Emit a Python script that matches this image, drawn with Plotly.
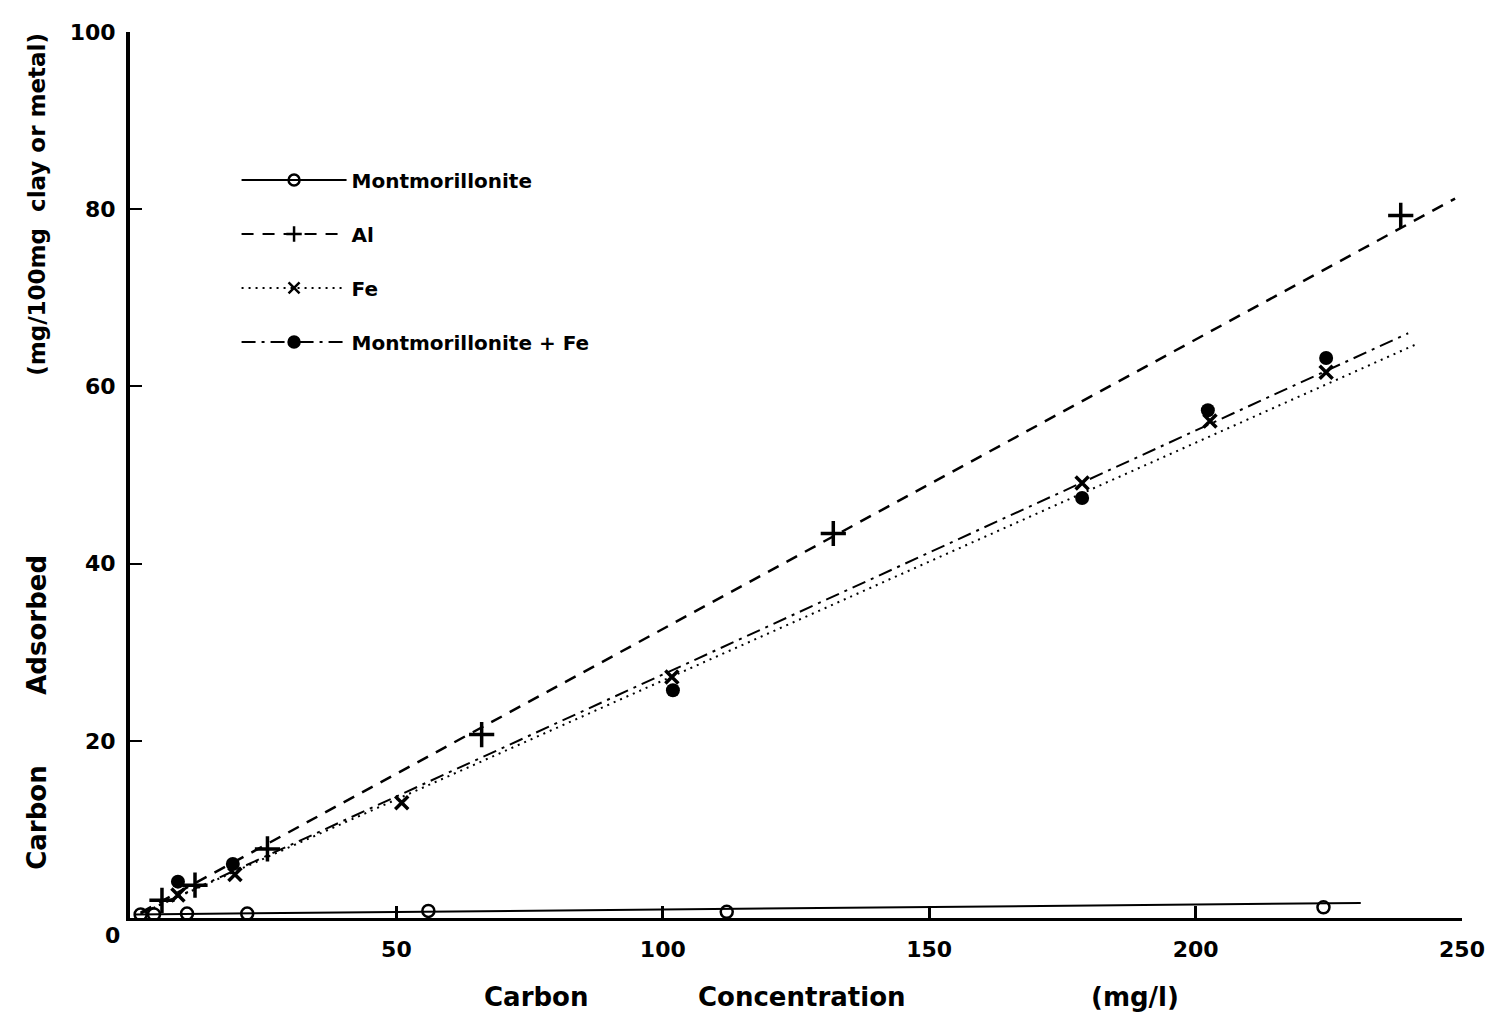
import plotly.graph_objects as go

# ---- data ----
mont_x = [2, 4.5, 10.7, 22, 56, 112, 224]
mont_y = [0.4, 0.4, 0.5, 0.5, 0.8, 0.7, 1.2]
mont_fit_x = [1, 231]
mont_fit_y = [0.4, 1.7]

al_x = [6, 12.2, 25.8, 66, 132, 238.5]
al_y = [2.0, 3.7, 7.8, 20.7, 43.4, 79.3]
al_fit_x = [2, 248.7]
al_fit_y = [0.6, 81.2]

fe_x = [9, 19.7, 51, 101.7, 178.7, 202.7, 224.5]
fe_y = [2.6, 4.9, 13.0, 27.2, 49.1, 56.1, 61.6]
fe_fit_x = [2, 241.2]
fe_fit_y = [0.5, 64.7]

mfe_x = [9, 19.3, 101.9, 178.7, 202.3, 224.5]
mfe_y = [4.1, 6.1, 25.7, 47.4, 57.3, 63.2]
mfe_fit_x = [2, 239.9]
mfe_fit_y = [0.5, 66.0]

x_ticks = [50, 100, 150, 200, 250]
y_ticks = [20, 40, 60, 80, 100]
series_names = ["Montmorillonite", "Al", "Fe", "Montmorillonite + Fe"]

FONT = "DejaVu Sans"
BLACK = "black"

fig = go.Figure()

styles = [
    dict(dash="solid", width=2, symbol="circle-open", size=12, mw=2.5),
    dict(dash="12px,9px", width=2.5, symbol="cross-thin-open", size=18, mw=3.5),
    dict(dash="2px,5px", width=2, symbol="x-thin-open", size=13, mw=3.5),
    dict(dash="14px,6px,3px,6px", width=2, symbol="circle", size=14, mw=0),
]
datasets = [
    (mont_x, mont_y, mont_fit_x, mont_fit_y),
    (al_x, al_y, al_fit_x, al_fit_y),
    (fe_x, fe_y, fe_fit_x, fe_fit_y),
    (mfe_x, mfe_y, mfe_fit_x, mfe_fit_y),
]

for name, st, (px, py, fx, fy) in zip(series_names, styles, datasets):
    fig.add_trace(go.Scatter(
        x=fx, y=fy, mode="lines", showlegend=False,
        line=dict(color=BLACK, width=st["width"], dash=st["dash"]),
        hoverinfo="skip"))
    fig.add_trace(go.Scatter(
        x=px, y=py, mode="markers", showlegend=False, name=name,
        marker=dict(symbol=st["symbol"], size=st["size"], color=BLACK,
                    line=dict(color=BLACK, width=st["mw"]))))
    # legend entry
    fig.add_trace(go.Scatter(
        x=[None], y=[None], mode="lines+markers", name=name,
        legendgroup=name,
        line=dict(color=BLACK, width=2, dash=st["dash"]),
        marker=dict(symbol=st["symbol"], size=min(st["size"], 11), color=BLACK,
                    line=dict(color=BLACK, width=2.5))))

fig.update_layout(
    width=1501, height=1020,
    paper_bgcolor="white", plot_bgcolor="white",
    margin=dict(l=122, r=47, t=24, b=110),
    font=dict(family=FONT, color=BLACK),
    showlegend=True,
    legend=dict(
        x=0.08, y=0.855, xanchor="left", yanchor="top",
        bgcolor="rgba(0,0,0,0)",
        font=dict(family=FONT, size=20, color=BLACK, weight="bold"),
        tracegroupgap=25, itemwidth=105,
    ),
    xaxis=dict(
        range=[0, 250], tickvals=x_ticks, ticktext=[str(v) for v in x_ticks],
        showgrid=False, zeroline=False, showline=True, linecolor=BLACK, linewidth=3,
        ticks="inside", ticklen=12, tickwidth=3, tickcolor=BLACK,
        tickfont=dict(family=FONT, size=22, color=BLACK, weight="bold"),
        ticklabelstandoff=10,
    ),
    yaxis=dict(
        range=[0, 100], tickvals=y_ticks, ticktext=[str(v) for v in y_ticks],
        showgrid=False, zeroline=False, showline=True, linecolor=BLACK, linewidth=4,
        ticks="inside", ticklen=12, tickwidth=2, tickcolor=BLACK,
        tickfont=dict(family=FONT, size=22, color=BLACK, weight="bold"),
        ticklabelstandoff=6,
    ),
)

# origin label
fig.add_annotation(x=-0.013, y=-0.003, xref="paper", yref="paper", text="0",
                   showarrow=False, xanchor="center", yanchor="top",
                   font=dict(family=FONT, size=22, color=BLACK, weight="bold"))
# x title words
for txt, cx in [("Carbon", 536), ("Concentration", 802), ("(mg/l)", 1135)]:
    fig.add_annotation(x=(cx - 130) / 1332, y=-0.07, xref="paper", yref="paper",
                       text=txt, showarrow=False, xanchor="center", yanchor="top",
                       font=dict(family=FONT, size=26, color=BLACK, weight="bold"))
# y title words
for txt, cy, fs in [("Carbon", 818, 26), ("Adsorbed", 625, 26),
                    ("(mg/100mg  clay or metal)", 204, 23)]:
    fig.add_annotation(x=-0.07, y=(918 - cy) / 886, xref="paper", yref="paper",
                       text=txt, showarrow=False, textangle=-90,
                       xanchor="center", yanchor="middle",
                       font=dict(family=FONT, size=fs, color=BLACK, weight="bold"))

fig.write_html("out.html")
